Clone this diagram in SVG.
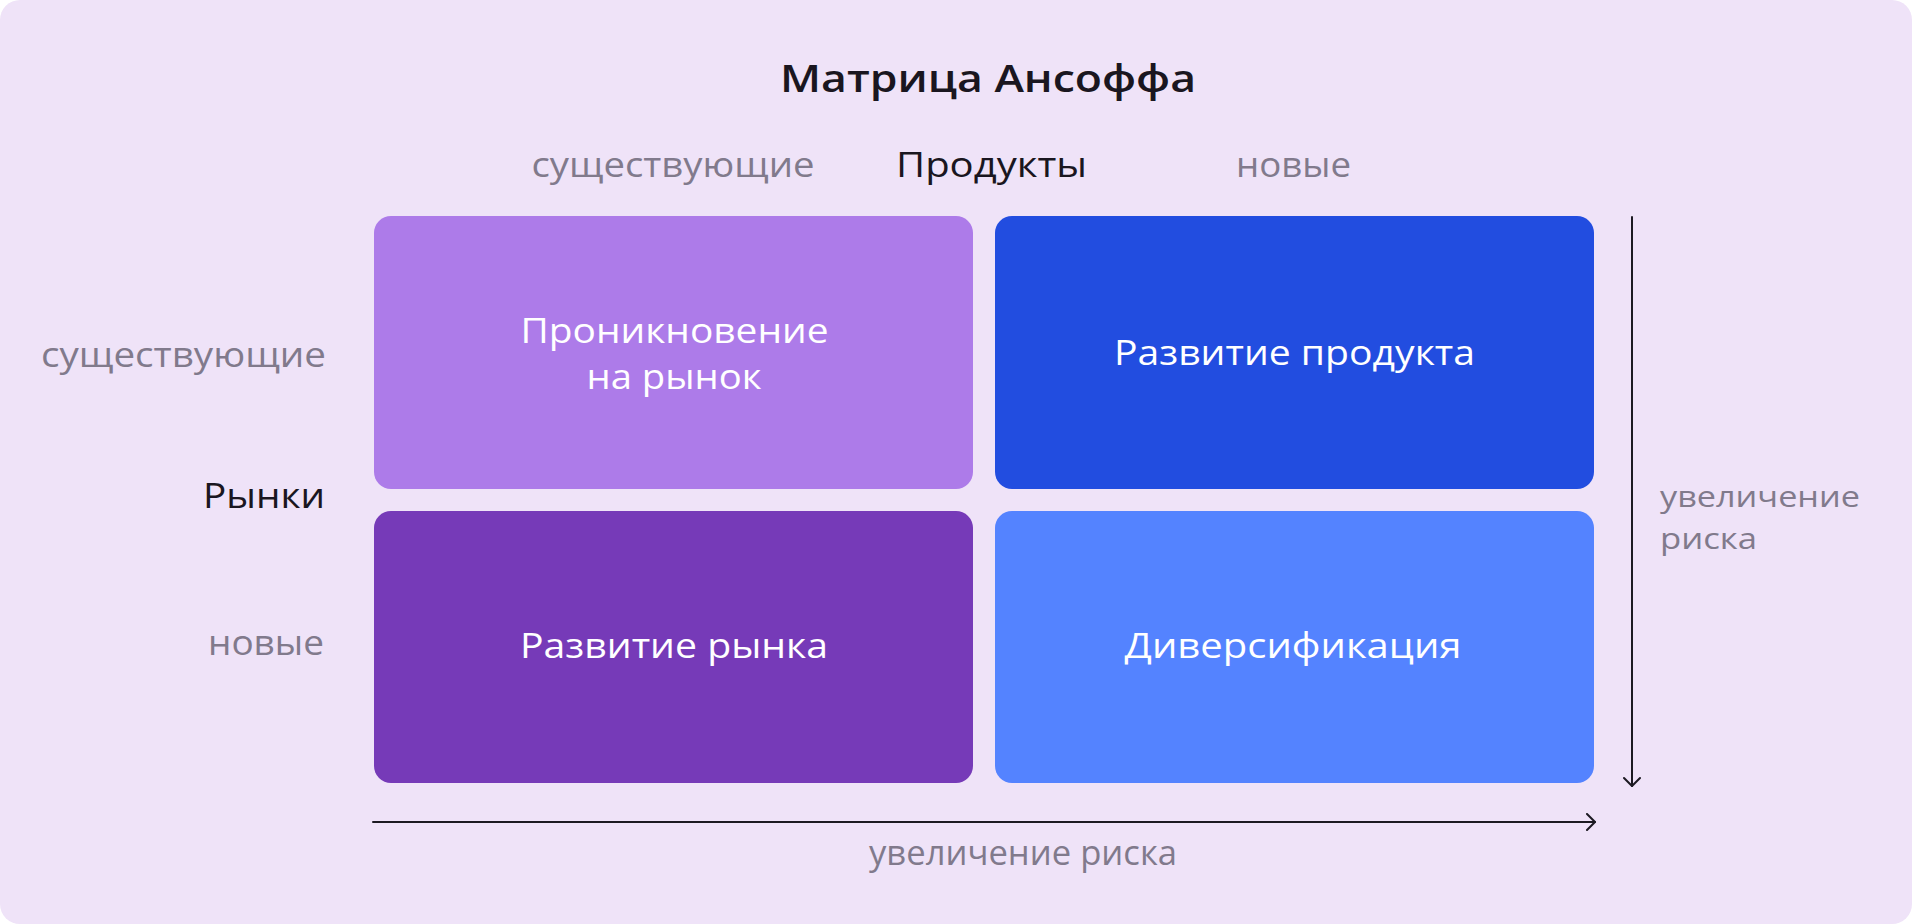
<svg xmlns="http://www.w3.org/2000/svg" width="1912" height="924" viewBox="0 0 1912 924">
<defs>
<style>
text{font-family:"Open Sans","Noto Sans","Liberation Sans",sans-serif;font-size:35px}
.gray{fill:#817a8c;font-weight:400}
.dark{fill:#1a1620;font-weight:500}
.title{fill:#1a1620;font-weight:600;font-size:38px}
.box{fill:#ffffff;font-weight:400}
.small{font-size:30px}
.axis{stroke:#1c1a22;stroke-width:2;fill:none;stroke-linecap:round;stroke-linejoin:round}
</style>
<marker id="arr" viewBox="0 0 12 18" refX="10" refY="9" markerWidth="12" markerHeight="18" markerUnits="userSpaceOnUse" orient="auto">
<path d="M2,1 L10,9 L2,17" fill="none" stroke="#1c1a22" stroke-width="2" stroke-linecap="round" stroke-linejoin="round"/>
</marker>
</defs>
<rect x="0" y="0" width="1912" height="924" fill="#ffffff"/>
<rect x="0" y="0" width="1912" height="924" rx="20" fill="#efe3f8"/>

<g id="title"><text class="title" x="988" y="92" text-anchor="middle" textLength="416" lengthAdjust="spacingAndGlyphs">Матрица Ансоффа</text></g>

<g id="axis-labels">
<text class="gray" x="673" y="177" text-anchor="middle" textLength="283" lengthAdjust="spacingAndGlyphs">существующие</text>
<text class="dark" x="991.5" y="177" text-anchor="middle" textLength="191" lengthAdjust="spacingAndGlyphs">Продукты</text>
<text class="gray" x="1293.5" y="177" text-anchor="middle" textLength="115" lengthAdjust="spacingAndGlyphs">новые</text>
<text class="gray" x="326" y="367" text-anchor="end" textLength="285" lengthAdjust="spacingAndGlyphs">существующие</text>
<text class="dark" x="325" y="508" text-anchor="end" textLength="122" lengthAdjust="spacingAndGlyphs">Рынки</text>
<text class="gray" x="324" y="655" text-anchor="end" textLength="116" lengthAdjust="spacingAndGlyphs">новые</text>
<text class="gray small" x="1660" y="507" textLength="200" lengthAdjust="spacingAndGlyphs">увеличение</text>
<text class="gray small" x="1660" y="549" textLength="97" lengthAdjust="spacingAndGlyphs">риска</text>
<text class="gray" x="1023" y="865" text-anchor="middle" textLength="308" lengthAdjust="spacingAndGlyphs">увеличение риска</text>
</g>

<g id="node-penetration">
<rect x="374" y="216" width="599" height="273" rx="17" fill="#ad7be9"/>
<text class="box" x="674.5" y="343" text-anchor="middle" textLength="308" lengthAdjust="spacingAndGlyphs">Проникновение</text>
<text class="box" x="674" y="389" text-anchor="middle" textLength="175" lengthAdjust="spacingAndGlyphs">на рынок</text>
</g>
<g id="node-product">
<rect x="995" y="216" width="599" height="273" rx="17" fill="#224de0"/>
<text class="box" x="1294.5" y="365" text-anchor="middle" textLength="361" lengthAdjust="spacingAndGlyphs">Развитие продукта</text>
</g>
<g id="node-market">
<rect x="374" y="511" width="599" height="272" rx="17" fill="#763ab8"/>
<text class="box" x="674" y="658" text-anchor="middle" textLength="308" lengthAdjust="spacingAndGlyphs">Развитие рынка</text>
</g>
<g id="node-diversification">
<rect x="995" y="511" width="599" height="272" rx="17" fill="#5483ff"/>
<text class="box" x="1293" y="658" text-anchor="middle" textLength="337" lengthAdjust="spacingAndGlyphs">Диверсификация</text>
</g>

<g id="connectors">
<line class="axis" x1="1632" y1="217" x2="1632" y2="786" marker-end="url(#arr)"/>
<line class="axis" x1="373" y1="822" x2="1595" y2="822" marker-end="url(#arr)"/>
</g>
</svg>
